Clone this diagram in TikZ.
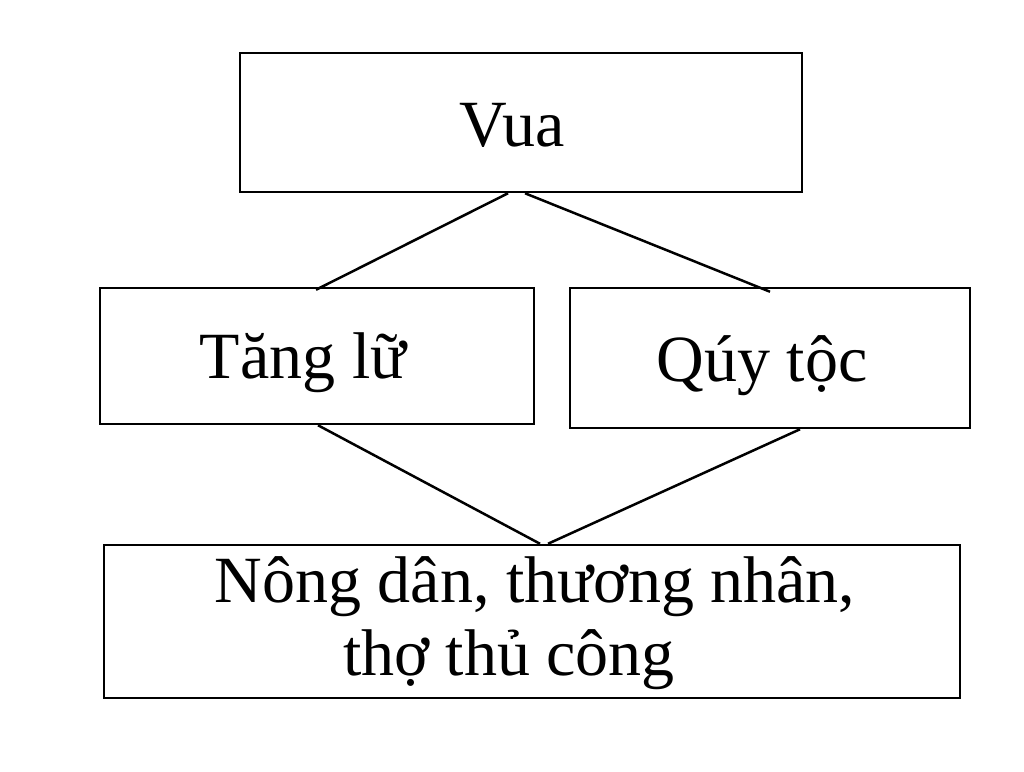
\documentclass[tikz,border=0pt]{standalone}
\usepackage{fontspec}
\setmainfont{Liberation Serif}
\begin{document}
\begin{tikzpicture}[x=1pt,y=-1pt,line width=2.5pt,
  box/.style={draw,inner sep=0pt},
  txt/.style={inner sep=0pt,anchor=base,font=\fontsize{66}{72}\selectfont}]
\useasboundingbox (0,0) rectangle (1024,771);
\node[box,minimum width=562pt,minimum height=139pt] (vua) at (521,122.5) {};
\node[box,minimum width=434pt,minimum height=136pt] (tang) at (317,356) {};
\node[box,minimum width=400pt,minimum height=140pt] (quy) at (770,358) {};
\node[box,minimum width=856pt,minimum height=153pt] (dan) at (532,621.5) {};
\node[txt] (tvua) at (512,146) {Vua};
\node[txt] (ttang) at (303,378) {Tăng lữ};
\node[txt] (tquy) at (762,381) {Qúy tộc};
\node[txt] (tdan1) at (535,602) {Nông dân, thương nhân,};
\node[txt] (tdan2) at (509,675) {thợ thủ công};
\draw ([xshift=-13pt]vua.south) -- ([xshift=-1pt,yshift=-3pt]tang.north);
\draw ([xshift=4pt]vua.south) -- ([yshift=-5pt]quy.north);
\draw ([xshift=1pt]tang.south) -- ([xshift=8pt]dan.north);
\draw ([xshift=30pt]quy.south) -- ([xshift=16pt]dan.north);
\end{tikzpicture}
\end{document}
